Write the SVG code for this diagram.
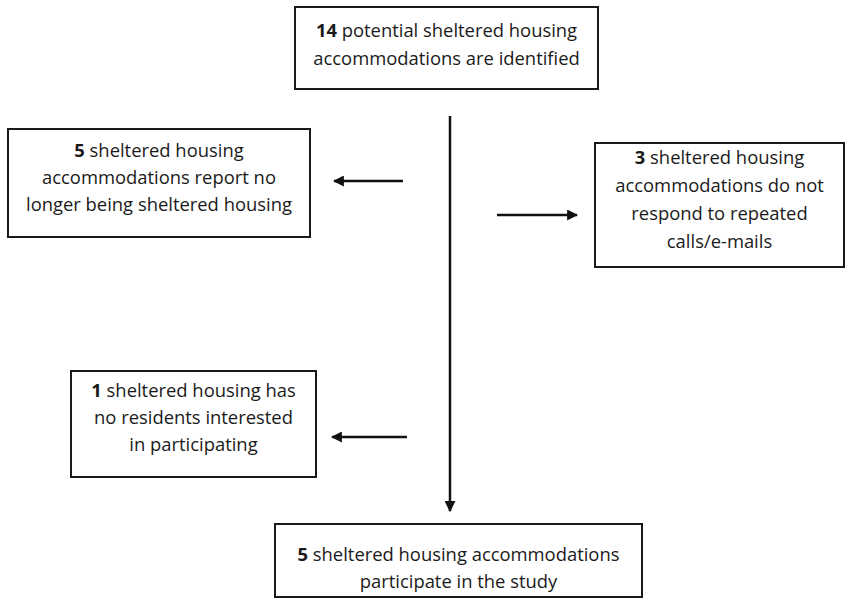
<svg xmlns="http://www.w3.org/2000/svg" width="846" height="598" viewBox="0 0 846 598">
<style>
.box{fill:#fff;stroke:#1a1a1a;stroke-width:2}
.t{font-family:"Open Sans","Liberation Sans",Arial,sans-serif;font-size:18.4px;fill:#1a1a1a;text-anchor:middle}
.b{font-weight:bold}
.c{stroke:#111;stroke-width:2.5;fill:none}
</style>
<defs>
<marker id="ah" viewBox="0 0 10 10" refX="9" refY="5" markerWidth="4.4" markerHeight="4.4" orient="auto" markerUnits="strokeWidth">
<path d="M0,0 L10,5 L0,10 Z" fill="#111"/>
</marker>
</defs>
<rect width="846" height="598" fill="#fff"/>
<g id="connectors">
<line class="c" x1="450" y1="116" x2="450" y2="511" marker-end="url(#ah)"/>
<line class="c" x1="403" y1="181" x2="334" y2="181" marker-end="url(#ah)"/>
<line class="c" x1="497" y1="215" x2="577" y2="215" marker-end="url(#ah)"/>
<line class="c" x1="407" y1="437" x2="332" y2="437" marker-end="url(#ah)"/>
</g>
<g id="n1">
<rect class="box" x="295" y="7" width="303" height="82"/>
<text class="t" x="446.5" y="37"><tspan class="b">14</tspan> potential sheltered housing</text>
<text class="t" x="446.5" y="65">accommodations are identified</text>
</g>
<g id="n2">
<rect class="box" x="8" y="129" width="302" height="108"/>
<text class="t" x="159" y="157"><tspan class="b">5</tspan> sheltered housing</text>
<text class="t" x="159" y="184">accommodations report no</text>
<text class="t" x="159" y="211">longer being sheltered housing</text>
</g>
<g id="n3">
<rect class="box" x="595" y="143" width="249" height="124"/>
<text class="t" x="719.5" y="164"><tspan class="b">3</tspan> sheltered housing</text>
<text class="t" x="719.5" y="192">accommodations do not</text>
<text class="t" x="719.5" y="220">respond to repeated</text>
<text class="t" x="719.5" y="248">calls/e-mails</text>
</g>
<g id="n4">
<rect class="box" x="71" y="371" width="245" height="106"/>
<text class="t" x="193.5" y="397"><tspan class="b">1</tspan> sheltered housing has</text>
<text class="t" x="193.5" y="424">no residents interested</text>
<text class="t" x="193.5" y="451">in participating</text>
</g>
<g id="n5">
<rect class="box" x="275" y="524" width="367" height="73"/>
<text class="t" x="458.5" y="561"><tspan class="b">5</tspan> sheltered housing accommodations</text>
<text class="t" x="458.5" y="588">participate in the study</text>
</g>
</svg>
